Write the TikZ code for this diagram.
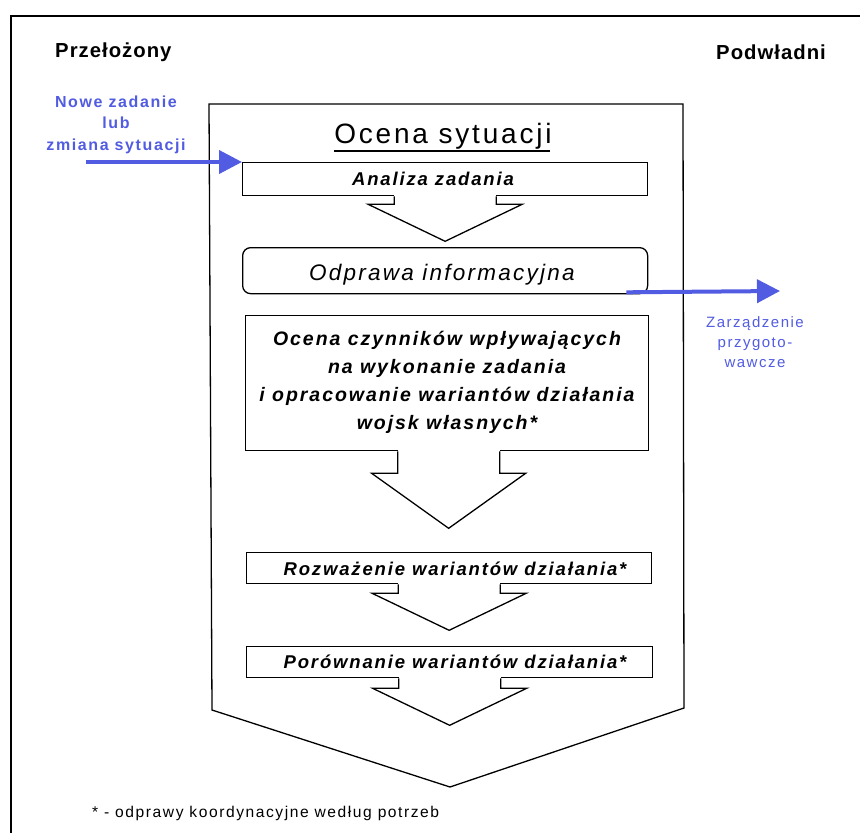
\documentclass[tikz,border=0pt]{standalone}
\usepackage{fontspec}
\setmainfont{Liberation Sans}[LetterSpace=10]
\newfontfamily\headfont{Liberation Sans}[LetterSpace=5]
\usetikzlibrary{arrows.meta}
\definecolor{flowblue}{RGB}{82,92,226}

% block arrow hanging below a box: #1 box, #2 shoulder depth, #3 tip depth, #4 x offset
\newcommand\blockdown[4]{%
  \fill[white] ([shift={(#4-51,-1.5)}]#1.south) rectangle ([shift={(#4+51,#2)}]#1.south);
  \draw[outline] ([shift={(#4-51,0)}]#1.south) -- ++(0,#2) -- ++(-26,0)
    -- ([shift={(#4,#3)}]#1.south)
    -- ([shift={(#4+77,#2)}]#1.south) -- ++(-26,0) -- ++(0,-#2);
}

\begin{document}
\begin{tikzpicture}[x=1pt,y=-1pt,
  frame/.style={line width=2pt},
  outline/.style={line width=1.3pt, line join=miter},
  box/.style={draw, line width=1.3pt, fill=white, inner sep=0pt, anchor=north west},
  txt/.style={inner sep=0pt},
  head/.style={txt, anchor=base west, font=\headfont\bfseries\fontsize{20.3pt}{24pt}\selectfont},
  boxbold/.style={txt, font=\bfseries\itshape\fontsize{18.5pt}{22pt}\selectfont},
  flowarrow/.style={draw=flowblue, line width=4pt, -{Triangle[length=23pt,width=23pt]}, fill=flowblue}
]
\useasboundingbox (0,0) rectangle (860,833);
\fill[white] (0,0) rectangle (860,833);

% outer frame (only its top and left sides fall inside the page)
\draw[frame] (11,850) -- (11,16) -- (880,16);

% column headings
\node[head] (superior) at (55,57) {Przełożony};
\node[head] (subordinates) at (716,59) {Podwładni};

% large pentagon enclosing the whole procedure
\draw[outline] (209,104) -- (683,104) -- (684,708) -- (450,787) -- (212,710) -- cycle;

% title
\node[txt, anchor=base, font=\fontsize{28pt}{32pt}\selectfont] (title) at (443,143) {Ocena sytuacji};
\draw[line width=1.6pt] ([yshift=-8pt]title.base west) -- ([yshift=-8pt,xshift=-2pt]title.base east);

% steps
\node[box, minimum width=405pt, minimum height=33pt] (b1) at (242,162) {};
\node[boxbold, anchor=base] (t1) at (433,185) {Analiza zadania};

\node[box, rounded corners=8pt, minimum width=405pt, minimum height=46pt] (b2) at (242,247) {};
\node[txt, anchor=base, font=\itshape\fontsize{22.5pt}{26pt}\selectfont] (t2) at (442,280) {Odprawa informacyjna};

\node[box, minimum width=403pt, minimum height=135pt] (b3) at (245,315) {};
\node[boxbold, align=center, font=\bfseries\itshape\fontsize{19.5pt}{28pt}\selectfont] (t3) at (447,382)
  {Ocena czynników wpływających\\na wykonanie zadania\\i opracowanie wariantów działania\\wojsk własnych*};

\node[box, minimum width=405pt, minimum height=31pt] (b4) at (246,552) {};
\node[boxbold, anchor=base] (t4) at (455,575) {Rozważenie wariantów działania*};

\node[box, minimum width=406pt, minimum height=31pt] (b5) at (246,646) {};
\node[boxbold, anchor=base] (t5) at (455,668) {Porównanie wariantów działania*};

% block arrows between the steps
\blockdown{b1}{8}{45}{0}
\blockdown{b3}{22}{77}{1.5}
\blockdown{b4}{9}{46}{0}
\blockdown{b5}{10}{47}{0}

% incoming task
\node[txt, align=center, text=flowblue, font=\bfseries\fontsize{16pt}{21.5pt}\selectfont] (newtask) at (116,124.5)
  {Nowe zadanie\\lub\\zmiana sytuacji};
\coordinate (inStart) at (86,162);
\draw[flowarrow] (inStart) -- (b1.north west);

% outgoing order
\coordinate (outStart) at ([shift={(-22,-2)}]b2.south east);
\coordinate (outEnd) at (780,291);
\draw[flowarrow] (outStart) -- (outEnd);
\node[txt, align=center, text=flowblue, font=\fontsize{15pt}{20pt}\selectfont] (order) at (755,342.5)
  {Zarządzenie\\przygoto-\\wawcze};

% footnote
\node[txt, anchor=base west, font=\fontsize{15.6pt}{18pt}\selectfont] (note) at (92,817)
  {* - odprawy koordynacyjne według potrzeb};
\end{tikzpicture}
\end{document}
